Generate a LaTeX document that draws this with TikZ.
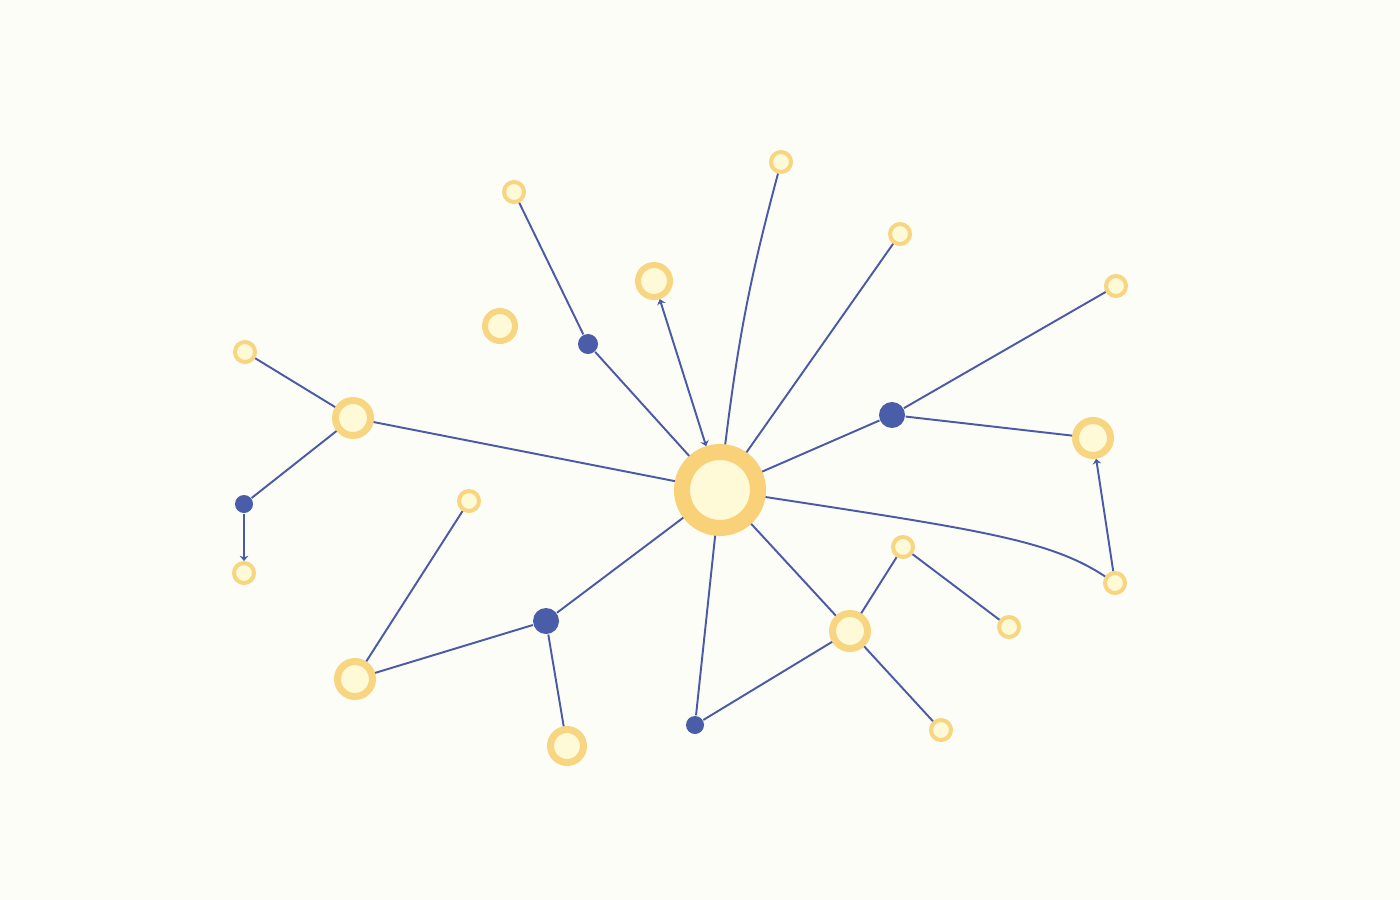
\documentclass[tikz,border=0pt]{standalone}
\usepackage{tikz}
\usetikzlibrary{arrows.meta}
\usepackage{xcolor}
\definecolor{fundo}{HTML}{FDFDF7}
\definecolor{anelcor}{HTML}{F8D681}
\definecolor{hubcor}{HTML}{F8D178}
\definecolor{miolo}{HTML}{FEF9D6}
\definecolor{linha}{HTML}{4A5AA6}
\definecolor{azul}{HTML}{4A5DA8}

\begin{document}
\begin{tikzpicture}[x=0.01cm, y=-0.01cm,
    anel/.style={circle, draw=anelcor, fill=miolo, inner sep=0pt},
    hubnode/.style={anel, draw=hubcor, minimum size=0.76cm, line width=0.16cm},
    anelgrande/.style={anel, minimum size=0.35cm, line width=0.07cm},
    anelpequeno/.style={anel, minimum size=0.20cm, line width=0.04cm},
    juncao/.style={circle, fill=azul, inner sep=0pt, minimum size=0.26cm},
    ligacao/.style={draw=linha, line width=0.55pt},
    ponta/.style={-{Stealth[length=1.5pt,width=2.5pt]}}]
    % Fundo
    \fill[fundo] (0,0) rectangle (1400,900);
    % Centro
    \node[hubnode] (hub) at (720,490) {};
    % Anéis grandes
    \node[anelgrande] (oeste) at (353,418) {};
    \node[anelgrande, minimum size=0.32cm, line width=0.06cm] (topo) at (654,281) {};
    \node[anelgrande, minimum size=0.30cm, line width=0.06cm] (solto) at (500,326) {};
    \node[anelgrande] (leste) at (1093,438) {};
    \node[anelgrande] (sudeste) at (850,631) {};
    \node[anelgrande] (sudoeste) at (355,679) {};
    \node[anelgrande, minimum size=0.33cm] (sul) at (567,746) {};
    % Anéis pequenos
    \node[anelpequeno] (p1) at (514,192) {};
    \node[anelpequeno] (p2) at (781,162) {};
    \node[anelpequeno] (p3) at (900,234) {};
    \node[anelpequeno] (p4) at (1116,286) {};
    \node[anelpequeno] (p5) at (245,352) {};
    \node[anelpequeno] (p6) at (244,573) {};
    \node[anelpequeno] (p7) at (469,501) {};
    \node[anelpequeno] (p8) at (903,547) {};
    \node[anelpequeno] (p9) at (1009,627) {};
    \node[anelpequeno] (p10) at (1115,583) {};
    \node[anelpequeno] (p11) at (941,730) {};
    % Junções
    \node[juncao, minimum size=0.20cm] (j1) at (588,344) {};
    \node[juncao] (j2) at (892,415) {};
    \node[juncao, minimum size=0.18cm] (j3) at (244,504) {};
    \node[juncao] (j4) at (546,621) {};
    \node[juncao, minimum size=0.18cm] (j5) at (695,725) {};
    % Ligações
    \draw[ligacao] (hub) -- (j1) -- (p1);
    \draw[ligacao, {Stealth[length=1.5pt,width=2.5pt]}-{Stealth[length=1.5pt,width=2.5pt]}] (hub) -- (topo);
    \draw[ligacao] (hub) to[bend left=4] (p2);
    \draw[ligacao] (hub) -- (p3);
    \draw[ligacao] (hub) -- (j2) -- (p4);
    \draw[ligacao] (j2) -- (leste);
    \draw[ligacao] (hub) .. controls (980,530) and (1050,540) .. (p10);
    \draw[ligacao, ponta] (p10) -- (leste);
    \draw[ligacao] (hub) -- (sudeste);
    \draw[ligacao] (sudeste) -- (p8) -- (p9);
    \draw[ligacao] (sudeste) -- (p11);
    \draw[ligacao] (sudeste) -- (j5) -- (hub);
    \draw[ligacao] (hub) -- (j4) -- (sudoeste) -- (p7);
    \draw[ligacao] (j4) -- (sul);
    \draw[ligacao] (hub) -- (oeste) -- (p5);
    \draw[ligacao] (oeste) -- (j3);
    \draw[ligacao, ponta] (j3) -- (p6);
\end{tikzpicture}
\end{document}
